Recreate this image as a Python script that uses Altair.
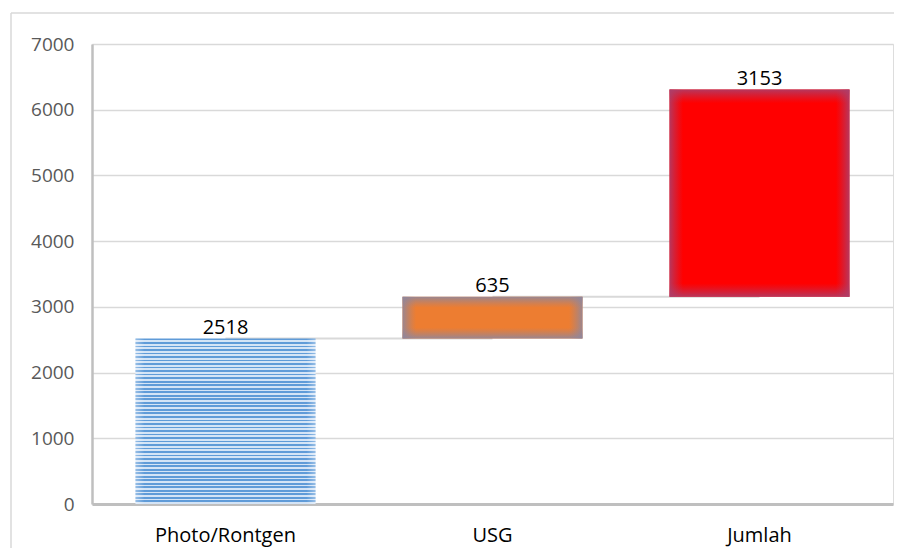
import altair as alt
import pandas as pd

categories = ["Photo/Rontgen", "USG", "Jumlah"]
values = [2518, 635, 3153]
starts = [0, 2518, 3153]
y_ticks = [0, 1000, 2000, 3000, 4000, 5000, 6000, 7000]

ends = [s + v for s, v in zip(starts, values)]
df = pd.DataFrame({"cat": categories, "start": starts, "end": ends, "label": [str(v) for v in values]})
conn = pd.DataFrame({
    "a": categories[:-1],
    "b": categories[1:],
    "level": ends[:-1],
})

FONT = "Open Sans"
x_scale = alt.Scale(domain=categories, paddingInner=0.326, paddingOuter=0.163)
y_scale = alt.Scale(domain=[0, 7000], nice=False)

X = alt.X("cat:N", scale=x_scale, sort=categories, title=None,
          axis=alt.Axis(labelAngle=0, labelAlign="center", labelBaseline="alphabetic",
                        labelFontSize=20, labelColor="#000000", labelFont=FONT,
                        ticks=False, tickSize=0, labelPadding=37, domainColor="#bfbfbf",
                        domainWidth=3, grid=False))
Y = alt.Y("start:Q", scale=y_scale, title=None,
          axis=alt.Axis(values=y_ticks, format="d", labelFontSize=19, labelColor="#595959",
                        labelFont=FONT, ticks=False, tickSize=0, labelPadding=18,
                        domainColor="#bfbfbf", domainWidth=2.5, gridColor="#d9d9d9",
                        gridWidth=1.5))

# stripes for first bar
stripe_stops = []
n = 47
for i in range(n):
    a = i / n
    m = (i + 0.5) / n
    b = (i + 1) / n
    stripe_stops += [
        {"offset": a, "color": "#5f9bd8"},
        {"offset": m, "color": "#5f9bd8"},
        {"offset": m, "color": "#d4e4f6"},
        {"offset": b, "color": "#d4e4f6"},
    ]
stripe_grad = {"gradient": "linear", "x1": 0, "y1": 0, "x2": 0, "y2": 1, "stops": stripe_stops}
stripe_edge = {"gradient": "linear", "x1": 0, "y1": 0, "x2": 1, "y2": 0, "stops": [
    {"offset": 0, "color": "rgba(255,255,255,0.35)"},
    {"offset": 0.05, "color": "rgba(255,255,255,0)"},
    {"offset": 0.95, "color": "rgba(255,255,255,0)"},
    {"offset": 1, "color": "rgba(255,255,255,0.35)"},
]}


def glow(rgb, a, w, horizontal):
    r, g, b = rgb
    def c(al):
        return f"rgba({r},{g},{b},{al})"
    stops = [
        {"offset": 0, "color": c(a)},
        {"offset": w * 0.35, "color": c(a * 0.6)},
        {"offset": w * 0.7, "color": c(a * 0.25)},
        {"offset": w, "color": c(0)},
        {"offset": 1 - w, "color": c(0)},
        {"offset": 1 - w * 0.7, "color": c(a * 0.25)},
        {"offset": 1 - w * 0.35, "color": c(a * 0.6)},
        {"offset": 1, "color": c(a)},
    ]
    if horizontal:
        return {"gradient": "linear", "x1": 0, "y1": 0, "x2": 1, "y2": 0, "stops": stops}
    return {"gradient": "linear", "x1": 0, "y1": 0, "x2": 0, "y2": 1, "stops": stops}


base = alt.Chart(df)

connectors = alt.Chart(conn).mark_rule(color="#d9d9d9", strokeWidth=2).encode(
    x=alt.X("a:N", scale=x_scale, sort=categories),
    x2="b:N",
    y=alt.Y("level:Q", scale=y_scale),
)


def bar_layer(cat, fill):
    return base.transform_filter(alt.datum.cat == cat).mark_bar(fill=fill).encode(
        x=X, y=Y, y2="end:Q")


bars = [
    bar_layer("Photo/Rontgen", stripe_grad),
    bar_layer("Photo/Rontgen", stripe_edge),
    bar_layer("USG", "#ed7d31"),
    bar_layer("USG", glow((140, 135, 160), 0.85, 0.075, True)),
    bar_layer("USG", glow((140, 135, 160), 0.85, 0.26, False)),
    bar_layer("Jumlah", "#ff0000"),
    bar_layer("Jumlah", glow((170, 65, 110), 0.85, 0.075, True)),
    bar_layer("Jumlah", glow((170, 65, 110), 0.85, 0.065, False)),
]

labels = base.mark_text(baseline="alphabetic", dy=-5, fontSize=20, font=FONT, color="#000000").encode(
    x=alt.X("cat:N", scale=x_scale, sort=categories),
    y=alt.Y("end:Q", scale=y_scale),
    text="label:N",
)

frame_df = pd.DataFrame({"k": [0]})
frame_left = alt.Chart(frame_df).mark_rule(color="#d9d9d9", strokeWidth=1.5).encode(
    x=alt.value(-81), y=alt.value(-31), y2=alt.value(504))
frame_top = alt.Chart(frame_df).mark_rule(color="#d9d9d9", strokeWidth=1.5).encode(
    x=alt.value(-81), x2=alt.value(802), y=alt.value(-31))

chart = alt.layer(frame_left, frame_top, connectors, *bars, labels).properties(
    width=801, height=460,
    padding={"left": 84, "top": 36, "right": 1, "bottom": 44},
    autosize=alt.AutoSizeParams(type="none"),
).configure_view(strokeWidth=0, stroke="transparent").configure(background="white")

chart.save("out.html", embed_options={"renderer": "svg", "actions": False})
